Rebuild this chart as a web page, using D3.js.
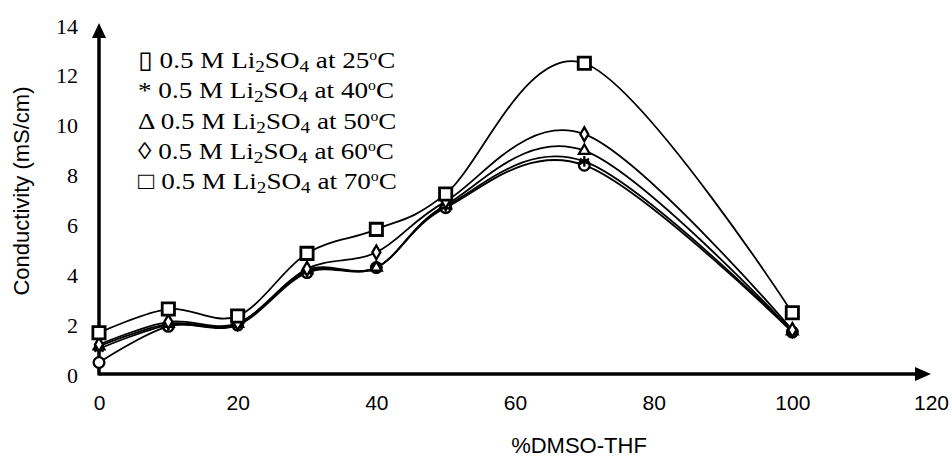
<!DOCTYPE html>
<html><head><meta charset="utf-8">
<script src="https://cdn.jsdelivr.net/npm/d3@7"></script>
<style>html,body{margin:0;padding:0;background:#fff;}</style>
</head><body><svg id="c" width="952" height="459"></svg>
<script>
const xValues = [0, 10, 20, 30, 40, 50, 70, 100];
const s25 = [0.5, 1.95, 2.0, 4.1, 4.3, 6.7, 8.4, 1.72];
const s40 = [1.05, 2.0, 2.05, 4.15, 4.3, 6.75, 8.55, 1.75];
const s50 = [1.15, 2.05, 2.05, 4.2, 4.3, 6.8, 8.98, 1.75];
const s60 = [1.22, 2.13, 2.08, 4.25, 4.91, 6.95, 9.64, 1.8];
const s70 = [1.69, 2.64, 2.36, 4.87, 5.83, 7.25, 12.48, 2.49];
const xTicks = [0, 20, 40, 60, 80, 100, 120];
const yTicks = [0, 2, 4, 6, 8, 10, 12, 14];
const legendSymbols = ["\u25AF", "*", "\u0394", "\u25CA", "\u25A1"];
const legendTemps = ["25", "40", "50", "60", "70"];
const xTitle = "%DMSO-THF";
const yTitle = "Conductivity (mS/cm)";

const series = [
  {vals: s25, marker: "circle"},
  {vals: s40, marker: "star"},
  {vals: s50, marker: "triangle"},
  {vals: s60, marker: "diamond"},
  {vals: s70, marker: "square"}
];

const svg = d3.select("#c");
const x = d3.scaleLinear().domain([0, 120]).range([99, 931]);
const y = d3.scaleLinear().domain([0, 14]).range([375, 25.3]);

// axes
const xAxis = d3.axisBottom(x).tickValues(xTicks).tickSize(0).tickPadding(0);
const gx = svg.append("g").attr("transform", "translate(0,374)").call(xAxis);
gx.select(".domain").remove();
gx.selectAll("text").attr("font-family", "Liberation Sans, Arial, sans-serif")
  .attr("font-size", 21).attr("fill", "#000").attr("dy", null).attr("y", 36);

const yAxis = d3.axisLeft(y).tickValues(yTicks).tickSize(0).tickPadding(0);
const gy = svg.append("g").attr("transform", "translate(78,0)").call(yAxis);
gy.select(".domain").remove();
gy.selectAll("text").attr("font-family", "Liberation Serif, Times New Roman, serif")
  .attr("font-size", 22).attr("fill", "#000").attr("x", 0).attr("dy", "0.35em");

// axis lines with arrows
svg.append("line").attr("x1", x(0)).attr("x2", 918).attr("y1", 374).attr("y2", 374)
  .attr("stroke", "#000").attr("stroke-width", 3.5);
svg.append("path").attr("d", `M931,374 L915,367 L915,381 Z`).attr("fill", "#000");
svg.append("line").attr("x1", x(0)).attr("x2", x(0)).attr("y1", 375.5).attr("y2", 36)
  .attr("stroke", "#000").attr("stroke-width", 3.5);
svg.append("path").attr("d", `M${x(0)},23 L${x(0)-7},38 L${x(0)+7},38 Z`).attr("fill", "#000");

// titles
svg.append("text").attr("x", 579).attr("y", 453).attr("text-anchor", "middle")
  .attr("font-family", "Liberation Sans, Arial, sans-serif").attr("font-size", 22).text(xTitle);
svg.append("text").attr("transform", "translate(29,191) rotate(-90)").attr("text-anchor", "middle")
  .attr("font-family", "Liberation Sans, Arial, sans-serif").attr("font-size", 22).text(yTitle);

// lines
const line = d3.line().x(d => x(d[0])).y(d => y(d[1])).curve(d3.curveCardinal.tension(0));
series.forEach(s => {
  svg.append("path").datum(xValues.map((v, i) => [v, s.vals[i]]))
    .attr("d", line).attr("fill", "none").attr("stroke", "#000").attr("stroke-width", 1.8);
});

// markers
const symGen = {
  circle: d3.symbol().type(d3.symbolCircle).size(90),
  star: d3.symbol().type(d3.symbolAsterisk).size(80),
  triangle: d3.symbol().type(d3.symbolTriangle).size(50),
  diamond: d3.symbol().type(d3.symbolDiamond).size(55),
  square: d3.symbol().type(d3.symbolSquare).size(150)
};
series.forEach(s => {
  svg.append("g").selectAll("path").data(xValues.map((v, i) => [v, s.vals[i]])).join("path")
    .attr("transform", d => `translate(${x(d[0])},${y(d[1])})`)
    .attr("d", symGen[s.marker]())
    .attr("fill", s.marker === "star" ? "none" : "#fff")
    .attr("stroke", "#000").attr("stroke-width", s.marker === "square" ? 2.8 : 2.3);
});

// legend
const leg = svg.append("g").attr("font-family", "Liberation Serif, Times New Roman, serif")
  .attr("font-size", 24).attr("fill", "#000")
  .attr("transform", "translate(138,0) scale(1.13,1)");
legendTemps.forEach((t, i) => {
  const tx = leg.append("text").attr("x", 0).attr("y", 68.3 + i * 30.2);
  tx.append("tspan").text(legendSymbols[i] + " 0.5 M Li");
  tx.append("tspan").attr("font-size", 17).attr("dy", 4).text("2");
  tx.append("tspan").attr("dy", -4).text("SO");
  tx.append("tspan").attr("font-size", 17).attr("dy", 4).text("4");
  tx.append("tspan").attr("dy", -4).text(" at " + t);
  tx.append("tspan").attr("font-size", 14).attr("dy", -8).text("o");
  tx.append("tspan").attr("dy", 8).text("C");
});
</script></body></html>
